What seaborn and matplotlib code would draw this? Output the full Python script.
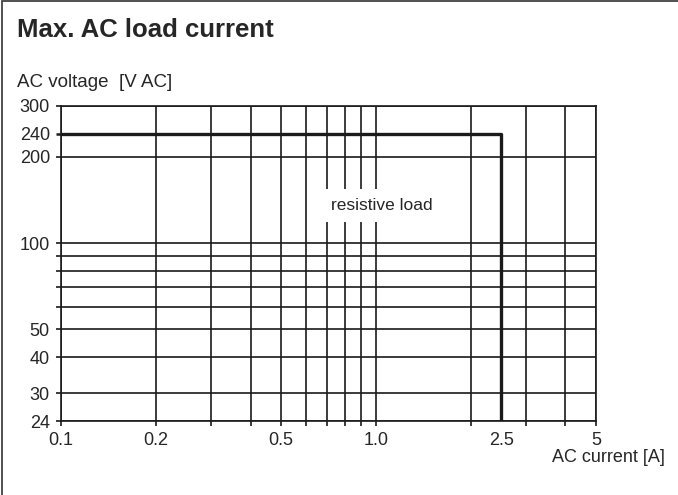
import matplotlib
matplotlib.use("Agg")
import matplotlib.pyplot as plt
import seaborn as sns
import pandas as pd
from matplotlib.patches import Rectangle

# limit curve (resistive load)
current = [0.1, 2.5, 2.5]
voltage = [240, 240, 24]

x_grid = [0.1, 0.2, 0.3, 0.4, 0.5, 0.6, 0.7, 0.8, 0.9, 1.0, 2, 3, 4, 5]
x_labels = {0.1: "0.1", 0.2: "0.2", 0.5: "0.5", 1.0: "1.0", 5: "5"}
y_grid = [24, 30, 40, 50, 60, 70, 80, 90, 100, 200, 300]
y_labels = {24: "24", 30: "30", 40: "40", 50: "50", 100: "100", 200: "200", 300: "300"}
x_extra = [2.5]
y_extra = [240]

sns.set_style("white")
plt.rcParams["font.family"] = ["Liberation Sans", "DejaVu Sans"]

fig = plt.figure(figsize=(6.78, 4.95), dpi=100)
ax = fig.add_axes([61 / 678, 1 - 421 / 495, (596 - 61) / 678, (421 - 106) / 495])

df = pd.DataFrame({"current": current, "voltage": voltage})
sns.lineplot(data=df, x="current", y="voltage", sort=False, estimator=None,
             color="#1a1a1a", linewidth=2.4, ax=ax, zorder=5)

ax.set_xscale("log")
ax.set_yscale("log")
ax.set_xlim(0.1, 5)
ax.set_ylim(24, 300)

ax.set_xticks(x_grid)
ax.set_xticklabels([x_labels.get(v, "") for v in x_grid])
ax.set_xticks(x_extra, minor=True)
ax.set_xticklabels(["2.5"], minor=True)
ax.set_yticks(y_grid)
ax.set_yticklabels([y_labels.get(v, "") for v in y_grid])
ax.set_yticks(y_extra, minor=True)
ax.set_yticklabels(["240"], minor=True)

gc = "#1a1a1a"
ax.grid(True, which="major", color=gc, linewidth=1.2)
ax.tick_params(which="major", direction="out", length=3.5, width=1.2, color=gc,
               labelsize=13, pad=4.5, bottom=True, left=True)
ax.tick_params(axis="x", which="minor", length=0, labelsize=13, pad=8)
ax.tick_params(axis="y", which="minor", length=3.5, width=1.8, color=gc,
               labelsize=13, pad=4.5, left=True)
for s in ax.spines.values():
    s.set_color(gc)
    s.set_linewidth(1.2)
ax.set_xlabel("")
ax.set_ylabel("")

ax.text(0.72, 135, "resistive load", fontsize=12.5, va="center", ha="left",
        zorder=6, bbox=dict(boxstyle="square,pad=0.5", fc="white", ec="none"))

fig.text(17 / 678, 1 - 37 / 495, "Max. AC load current", fontsize=18.5,
         fontweight="bold", va="baseline", ha="left")
fig.text(17 / 678, 1 - 87 / 495, "AC voltage  [V AC]", fontsize=13.5,
         va="baseline", ha="left")
fig.text(665 / 678, 1 - 462 / 495, "AC current [A]", fontsize=13,
         va="baseline", ha="right")

fig.patches.append(Rectangle((2 / 678, -0.1), 1.2, 1.1 - 1.5 / 495,
                             transform=fig.transFigure, fill=False,
                             ec="#333333", lw=1.2))

fig.savefig("out.png", dpi=100)
